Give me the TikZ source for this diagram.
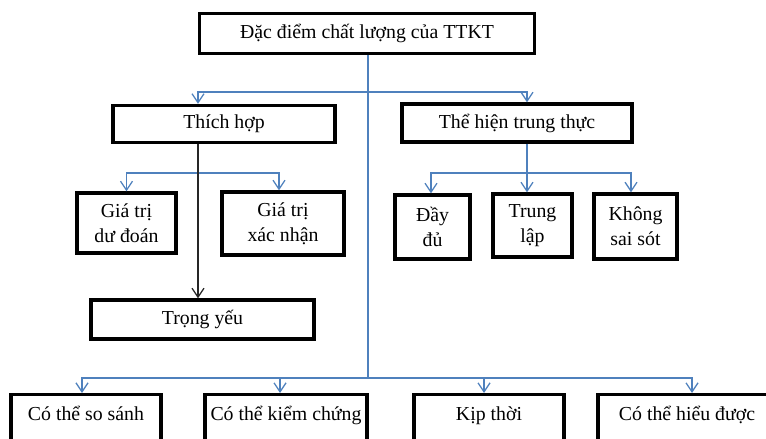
\documentclass[tikz,border=0pt]{standalone}
\usepackage{fontspec}
\setmainfont{Liberation Serif}
\usetikzlibrary{arrows.meta}
\definecolor{lineblue}{RGB}{79,129,189}

\begin{document}
\begin{tikzpicture}[x=1pt,y=-1pt,
  box/.style={draw,line width=3.3pt,inner sep=0pt,align=center,font=\fontsize{19.8}{25}\selectfont},
  lowbox/.style={box,anchor=north,text height=26pt,text depth=60pt},
  conn/.style={lineblue,line width=1.3pt},
  tip/.style={-{Straight Barb[length=9pt,width=12pt,line width=1.3pt]}}]
\clip (0,0) rectangle (766,439);

\node [box,minimum width=335,minimum height=40] (ddcl) at (367,33.5) {Đặc điểm chất lượng của TTKT};

\node [box,minimum width=222,minimum height=37] (thich) at (224,124) {Thích hợp};
\node [box,minimum width=230,minimum height=38] (thehien) at (517,123) {Thể hiện trung thực};

\node [box,minimum width=99,minimum height=60] (gtdd) at (126.5,223) {Giá trị\\dư đoán};
\node [box,minimum width=122,minimum height=63] (gtxn) at (283,223.5) {Giá trị\\xác nhận};
\node [box,minimum width=75,minimum height=64] (daydu) at (432.5,227) {Đầy\\đủ};
\node [box,minimum width=79,minimum height=63] (trunglap) at (532.5,225.5) {Trung\\lập};
\node [box,minimum width=83,minimum height=65] (khong) at (635.5,226.5) {Không\\sai sót};

\node [box,minimum width=223,minimum height=39] (trongyeu) at (202.5,319.5) {Trọng yếu};

\node [lowbox,minimum width=150] (sosanh) at (86,393) {Có thể so sánh};
\node [lowbox,minimum width=162] (kiemchung) at (286,393) {Có thể kiểm chứng};
\node [lowbox,minimum width=150] (kipthoi) at (489,393) {Kịp thời};
\node [lowbox,minimum width=178] (hieuduoc) at (687,393) {Có thể hiểu được};

\coordinate (j1) at (368,92);
\coordinate (j2) at (198,173);
\coordinate (j3) at (527,173);
\coordinate (j4) at (368,378);

% main stem
\draw [conn] (ddcl.south -| j1) -- (j4);
\draw [conn,tip] (j1) -| ([xshift=-26pt]thich.north);
\draw [conn,tip] (j1) -| ([xshift=10pt]thehien.north);

% thich hop
\draw [conn] ([xshift=-26pt]thich.south) -- (j2);
\draw [conn,tip] (j2) -| (gtdd.north);
\draw [conn,tip] (j2) -| ([xshift=-4pt]gtxn.north);
\draw [line width=1.3pt,black!85,tip] ([xshift=-26pt]thich.south) -- ([xshift=-26pt]thich.south |- trongyeu.north);

% the hien trung thuc
\draw [conn] ([xshift=10pt]thehien.south) -- (j3);
\draw [conn,tip] (j3) -| ([xshift=-1.5pt]daydu.north);
\draw [conn,tip] (j3) -- (j3 |- trunglap.north);
\draw [conn,tip] (j3) -| ([xshift=-4.5pt]khong.north);

% bottom row
\draw [conn,tip] (j4) -| ([xshift=-4pt]sosanh.north);
\draw [conn,tip] (j4) -| ([xshift=-6pt]kiemchung.north);
\draw [conn,tip] (j4) -| ([xshift=-5pt]kipthoi.north);
\draw [conn,tip] (j4) -| ([xshift=5pt]hieuduoc.north);
\end{tikzpicture}
\end{document}
